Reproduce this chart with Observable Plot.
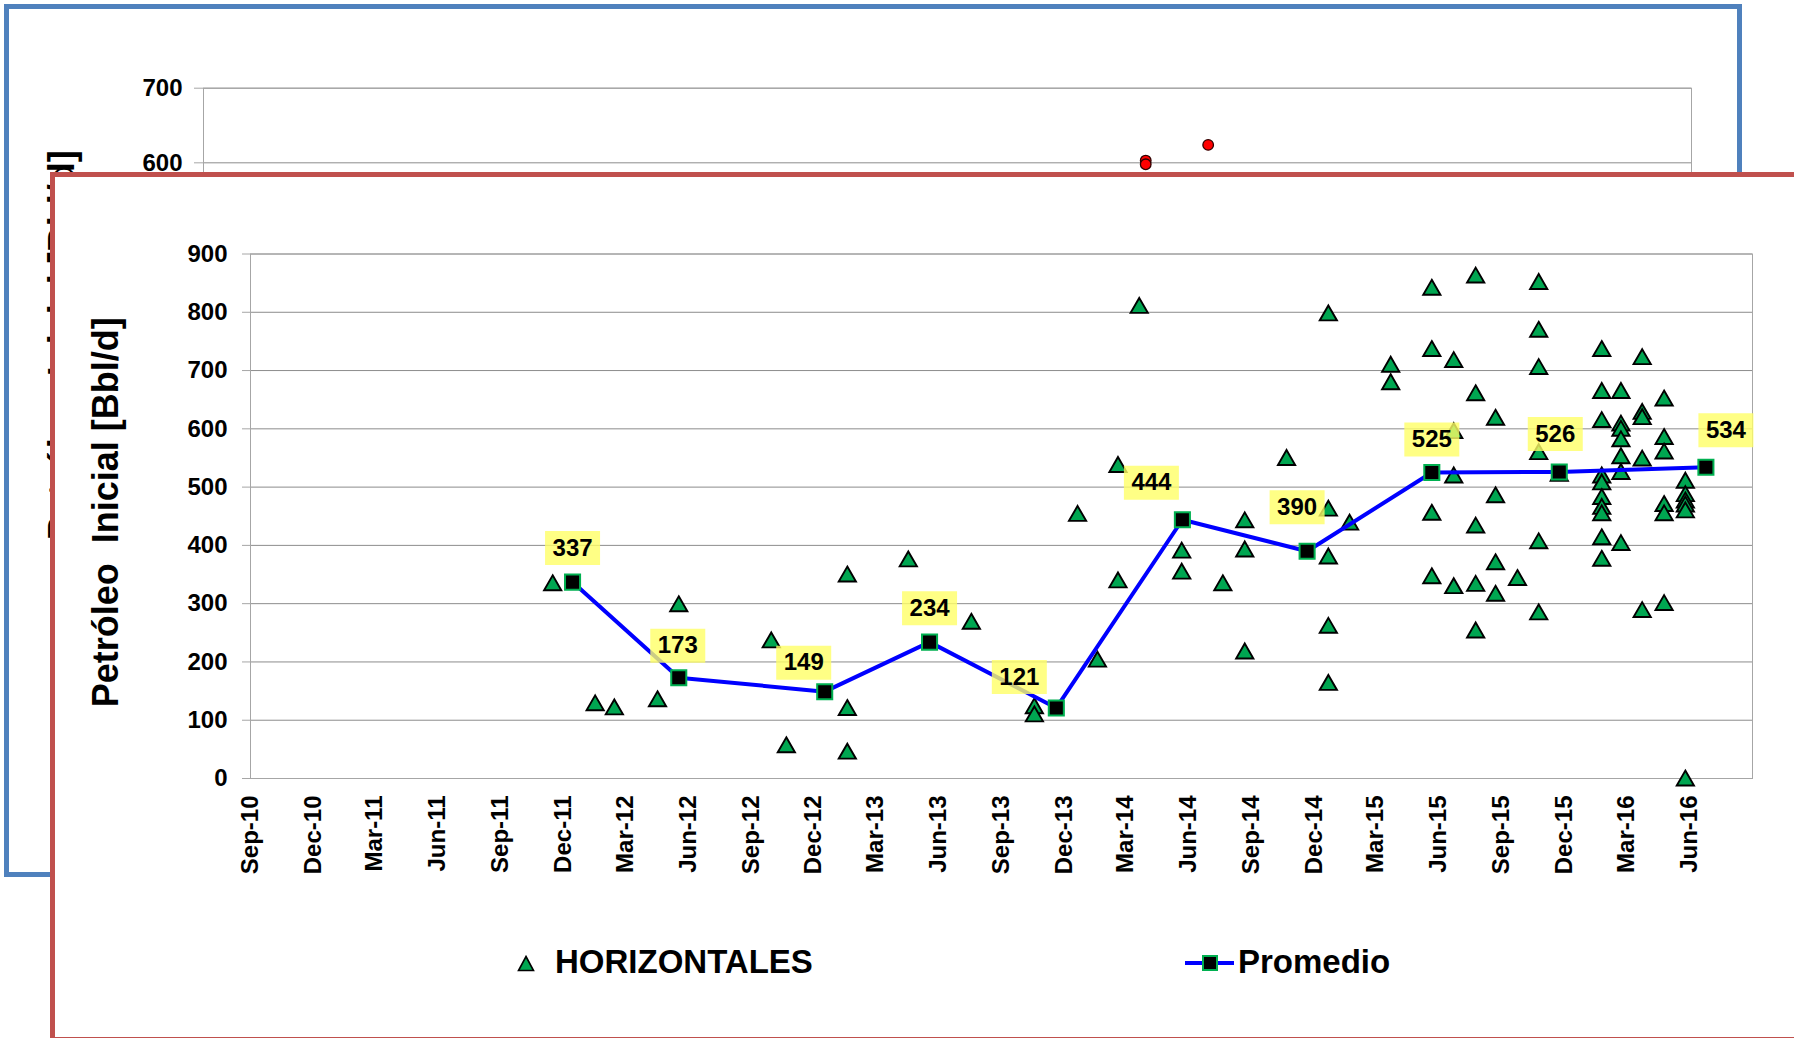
<!DOCTYPE html>
<html>
<head>
<meta charset="utf-8">
<script src="https://cdn.jsdelivr.net/npm/d3@7"></script>
<script src="https://cdn.jsdelivr.net/npm/@observablehq/plot@0.6"></script>
<style>
html,body{margin:0;padding:0;background:#fff;overflow:hidden;}
body{width:1794px;height:1038px;position:relative;font-family:Arial,"Liberation Sans",sans-serif;}
#blue{position:absolute;left:4px;top:4px;width:1738px;height:873px;box-sizing:border-box;border:5px solid #4F81BD;background:#fff;}
#back{position:absolute;left:0;top:0;}
#red{position:absolute;left:50px;top:171.5px;width:1800px;height:870.5px;box-sizing:border-box;border:5px solid #C0504D;background:#fff;}
#front{position:absolute;left:0;top:0;}
svg text{font-weight:bold;}
.leg{position:absolute;font-weight:bold;font-size:33px;line-height:32px;white-space:nowrap;color:#000;}
</style>
</head>
<body>
<div id="blue"></div>
<div id="back"></div>
<div id="red"></div>
<div id="front"></div>
<svg class="leg" style="left:517px;top:955px" width="18" height="17"><polygon points="9,1.5 16.5,15.5 1.5,15.5" fill="#00A651" stroke="#000" stroke-width="1.6"/></svg>
<div class="leg" style="left:555px;top:946px">HORIZONTALES</div>
<div class="leg" style="left:1185px;top:961px;width:49px;height:4px;background:#0000FF"></div>
<div class="leg" style="left:1202px;top:955px;width:16px;height:16px;box-sizing:border-box;background:#000;border:2px solid #00B050"></div>
<div class="leg" style="left:1238px;top:946px">Promedio</div>
<script>
// ---- Data ----
const yTitle = "Petróleo  Inicial [Bbl/d]";
const yTicks = [0, 100, 200, 300, 400, 500, 600, 700, 800, 900];
const xTickDates = ["2010-09-01","2010-12-01","2011-03-01","2011-06-01","2011-09-01","2011-12-01",
  "2012-03-01","2012-06-01","2012-09-01","2012-12-01","2013-03-01","2013-06-01","2013-09-01","2013-12-01",
  "2014-03-01","2014-06-01","2014-09-01","2014-12-01","2015-03-01","2015-06-01","2015-09-01","2015-12-01",
  "2016-03-01","2016-06-01"];

// HORIZONTALES wells: date of each group and the initial oil values of the wells on that date
const wellDates = ["2011-11-16","2012-01-17","2012-02-14","2012-04-17","2012-05-18","2012-09-30","2012-10-22",
  "2013-01-19","2013-04-18","2013-07-19","2013-10-19","2013-12-21","2014-01-19","2014-02-18","2014-03-21",
  "2014-05-22","2014-07-21","2014-08-22","2014-10-22","2014-12-22","2015-01-22","2015-03-23","2015-05-22",
  "2015-06-23","2015-07-25","2015-08-23","2015-09-24","2015-10-25","2015-11-24","2016-01-25","2016-02-22",
  "2016-03-24","2016-04-25","2016-05-26"];
const wellValues = [[335],[129],[122],[136],[299],[237],[57],
  [350,121,46],[376],[269],[124,110],[454],[204],[538,340],[811],
  [391,355],[335],[443,393,218],[550],[798,463,381,262,164],[439],[710,680],[842,737,456,347],
  [718,596,520,330],[863,661,434,334,254],[619,486,371,317],[344],[852,770,706,560,407,285],[523],
  [737,665,615,520,508,483,466,455,414,377],[665,609,600,582,553,526,404],
  [723,629,620,549,289],[652,586,561,471,455,301],[511,488,477,470,460,0]];

// Promedio (average) series
const avgDates = ["2011-12-15","2012-05-18","2012-12-17","2013-05-19","2013-11-20","2014-05-23",
  "2014-11-21","2015-05-22","2015-11-24","2016-06-25"];
const avgValues = [337, 173, 149, 234, 121, 444, 390, 525, 526, 534];

// Background (partially hidden) chart points
const backDates = ["2014-06-20","2014-06-20","2014-09-20"];
const backValues = [603, 598, 624];
const backTicks = [0, 100, 200, 300, 400, 500, 600, 700];

// Label placement nudges (pixels) for the average data labels
const labelDx = [0, -1, -21, 0, -37, -31, -10, 0, -4, 20];
const labelDy = [-34, -32, -29, -34, -31, -37, -44, -33, -38, -37];

// ---- Build tables ----
const parse = d3.utcParse("%Y-%m-%d");
const wells = wellDates.flatMap((d, i) => wellValues[i].map(v => ({date: parse(d), value: v})));
const avg = avgDates.map((d, i) => ({date: parse(d), value: avgValues[i]}));
const back = backDates.map((d, i) => ({date: parse(d), value: backValues[i]}));
const xDomain = [parse("2010-09-01"), parse("2016-09-01")];
const font = "Arial, 'Liberation Sans', sans-serif";

const labelBox = {draw(ctx) { ctx.rect(-27.5, -17, 55, 34); }};

// ---- Background chart ----
const backPlot = Plot.plot({
  width: 1794, height: 700,
  marginLeft: 203, marginRight: 103, marginTop: 87.7, marginBottom: 90,
  style: {background: "transparent", fontFamily: font, overflow: "visible"},
  x: {type: "utc", domain: xDomain, axis: null},
  y: {domain: [0, 700]},
  marks: [
    Plot.gridY(backTicks, {stroke: "#8c8c8c", strokeOpacity: 1}),
    Plot.frame({stroke: "#a6a6a6"}),
    Plot.axisY({ticks: backTicks, tickSize: 9, tickPadding: 12, fontSize: 24, fontWeight: "bold", stroke: "#a6a6a6", label: null}),
    Plot.text([yTitle], {frameAnchor: "left", textAnchor: "middle", text: d => d, rotate: -90, dx: -141.5, dy: -4, fontSize: 36, fontWeight: "bold", fill: "#000"}),
    Plot.dot(back, {x: "date", y: "value", r: 5.3, fill: "#FF0000", stroke: "#300000", strokeWidth: 1.3})
  ]
});
document.getElementById("back").appendChild(backPlot);

// ---- Front chart ----
const labelMarks = avg.flatMap((d, i) => [
  Plot.dot([d], {x: "date", y: "value", symbol: labelBox, r: 10, fill: "#FFFF66", fillOpacity: 0.8, dx: labelDx[i], dy: labelDy[i]}),
  Plot.text([d], {x: "date", y: "value", text: e => String(e.value), dx: labelDx[i], dy: labelDy[i], fontSize: 24, fontWeight: "bold", fill: "#000"})
]);

const frontPlot = Plot.plot({
  width: 1794, height: 1038,
  marginLeft: 250, marginRight: 42, marginTop: 253.5, marginBottom: 260,
  style: {background: "transparent", fontFamily: font, overflow: "visible"},
  x: {type: "utc", domain: xDomain},
  y: {domain: [0, 900]},
  marks: [
    Plot.gridY(yTicks, {stroke: "#8c8c8c", strokeOpacity: 1}),
    Plot.frame({stroke: "#a6a6a6"}),
    Plot.axisY({ticks: yTicks, tickSize: 8, tickPadding: 15, fontSize: 24, fontWeight: "bold", stroke: "#a6a6a6", label: null}),
    Plot.axisX({ticks: xTickDates.map(parse), tickFormat: d3.utcFormat("%b-%y"), tickRotate: -90, tickSize: 0, tickPadding: 17, fontSize: 24, fontWeight: "bold", label: null}),
    Plot.text([yTitle], {frameAnchor: "left", textAnchor: "middle", text: d => d, rotate: -90, dx: -144, dy: -4, fontSize: 36, fontWeight: "bold", fill: "#000"}),
    Plot.dot(wells, {x: "date", y: "value", symbol: "triangle", r: 6.4, dy: 2, fill: "#00A651", stroke: "#000", strokeWidth: 1.9}),
    Plot.line(avg, {x: "date", y: "value", stroke: "#0000FF", strokeWidth: 4}),
    Plot.dot(avg, {x: "date", y: "value", symbol: "square", r: 8.5, fill: "#000", stroke: "#00B050", strokeWidth: 2}),
    ...labelMarks
  ]
});
document.getElementById("front").appendChild(frontPlot);
</script>
</body>
</html>
